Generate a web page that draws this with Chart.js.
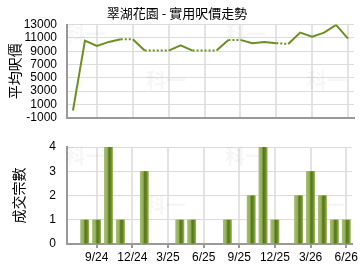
<!DOCTYPE html>
<html lang="zh-Hant">
<head>
    <meta charset="UTF-8">
    <title>翠湖花園</title>
    <style>
        body { margin: 0; background: #fff; }
        #wrap { position: relative; width: 360px; height: 270px; }
        #wrap canvas { position: absolute; left: 0; }
        #priceChart { top: 0; }
        #countChart { top: 135px; }
    </style>
</head>
<body>
    <div id="wrap">
        <canvas id="priceChart" width="360" height="135"></canvas>
        <canvas id="countChart" width="360" height="135"></canvas>
    </div>

<script src="https://cdn.jsdelivr.net/npm/chart.js"></script>
    <script>
        // months 7/24 .. 6/26
        const months = ['7/24','8/24','9/24','10/24','11/24','12/24','1/25','2/25','3/25','4/25','5/25','6/25',
                        '7/25','8/25','9/25','10/25','11/25','12/25','1/26','2/26','3/26','4/26','5/26','6/26'];
        const avgPrice = [100, 10600, 9800, 10400, 10800, 10800, 9100, 9100, 9100, 9900, 9100, 9100,
                          9100, 10700, 10700, 10200, 10400, 10200, 10100, 11800, 11200, 11800, 12950, 10900];
        const dealCount = [0, 1, 1, 4, 1, 0, 3, 0, 0, 1, 1, 0, 0, 1, 0, 2, 4, 1, 0, 2, 3, 2, 1, 1];
        const shownTicks = ['9/24','12/24','3/25','6/25','9/25','12/25','3/26','6/26'];
        const priceTicks = [-1000, 1000, 3000, 5000, 7000, 9000, 11000, 13000];
        const countTicks = [0, 1, 2, 3, 4];

        const fontFamily = '"Liberation Sans", Arial, sans-serif';
        const cjkFamily = '"Noto Sans CJK TC", "Noto Sans", sans-serif';
        const lineColor = '#6b8f23';

        function isShown(i){ return shownTicks.indexOf(months[i]) >= 0; }

        // faint watermark behind the plot
        const watermark = {
            id: 'watermark',
            beforeDatasetsDraw(chart){
                const a = chart.chartArea, c = chart.ctx;
                const w = a.right - a.left, h = a.bottom - a.top;
                c.save();
                c.font = 'bold 20px ' + cjkFamily;
                c.fillStyle = 'rgba(0,0,0,0.035)';
                c.textAlign = 'center';
                c.textBaseline = 'middle';
                [[0.03, 0.1], [0.31, 0.6], [0.59, 0.1], [0.87, 0.6]].forEach(p => {
                    c.fillText('科一', a.left + w * p[0] + 10, a.top + h * p[1]);
                });
                c.restore();
            }
        };

        // shaded cylinder look for bars
        const barShade = {
            id: 'barShade',
            afterDatasetsDraw(chart){
                const c = chart.ctx;
                chart.getDatasetMeta(0).data.forEach(bar => {
                    const p = bar.getProps(['x','y','base','width'], true);
                    if (Math.abs(p.base - p.y) < 0.5) return;
                    const l = p.x - p.width / 2;
                    const g = c.createLinearGradient(l, 0, l + p.width, 0);
                    g.addColorStop(0, '#a6bf72');
                    g.addColorStop(0.35, '#93b057');
                    g.addColorStop(0.55, '#557617');
                    g.addColorStop(0.8, '#6a8a2a');
                    g.addColorStop(1, '#9fbb66');
                    c.save();
                    c.fillStyle = g;
                    c.fillRect(l, p.y, p.width, p.base - p.y);
                    c.restore();
                });
            }
        };

        const gridX = {
            offset: false,
            color: ctx => isShown(ctx.index) ? '#e3e3e3' : 'rgba(0,0,0,0)',
            lineWidth: 2
        };

        new Chart(document.getElementById('priceChart'), {
            type: 'line',
            data: {
                labels: months,
                datasets: [{
                    data: avgPrice,
                    borderColor: lineColor,
                    borderWidth: 2,
                    pointRadius: 0,
                    tension: 0,
                    segment: {
                        borderDash: ctx => dealCount[ctx.p1DataIndex] === 0 ? [2, 2] : undefined
                    }
                }]
            },
            options: {
                responsive: false,
                animation: false,
                layout: { padding: { left: 0, right: 6, top: 0, bottom: 4 } },
                plugins: {
                    legend: { display: false },
                    tooltip: { enabled: false },
                    title: {
                        display: true,
                        text: '翠湖花園 - 實用呎價走勢',
                        color: '#000',
                        font: { family: cjkFamily, size: 13, weight: 'normal' },
                        padding: { top: 5, bottom: 4 }
                    }
                },
                scales: {
                    x: {
                        offset: true,
                        grid: Object.assign({ drawTicks: false }, gridX),
                        border: { color: '#999', width: 2 },
                        ticks: { display: false }
                    },
                    y: {
                        min: -1000,
                        max: 13000,
                        afterBuildTicks: s => { s.ticks = priceTicks.map(v => ({ value: v })); },
                        afterFit: s => { s.width = 67; },
                        grid: { color: '#dcdcdc', drawTicks: false },
                        border: { color: '#999', width: 2 },
                        ticks: {
                            autoSkip: false,
                            color: '#000',
                            padding: 10,
                            font: { family: fontFamily, size: 12 },
                            callback: v => String(v)
                        },
                        title: {
                            display: true,
                            text: '平均呎價',
                            color: '#000',
                            padding: 6,
                            font: { family: cjkFamily, size: 14 }
                        }
                    }
                }
            },
            plugins: [watermark]
        });

        new Chart(document.getElementById('countChart'), {
            type: 'bar',
            data: {
                labels: months,
                datasets: [{
                    data: dealCount,
                    backgroundColor: '#8aa84c',
                    barPercentage: 0.72,
                    categoryPercentage: 1
                }]
            },
            options: {
                responsive: false,
                animation: false,
                layout: { padding: { left: 0, right: 5, top: 12, bottom: 0 } },
                plugins: {
                    legend: { display: false },
                    tooltip: { enabled: false }
                },
                scales: {
                    x: {
                        offset: true,
                        afterFit: s => { s.height = 26; },
                        grid: Object.assign({ tickLength: 4, tickColor: ctx => isShown(ctx.index) ? '#999' : 'rgba(0,0,0,0)' }, gridX),
                        border: { color: '#999', width: 2 },
                        ticks: {
                            autoSkip: false,
                            maxRotation: 0,
                            padding: 2,
                            color: '#000',
                            font: { family: fontFamily, size: 12 },
                            callback: (v, i) => isShown(i) ? months[i] : ''
                        }
                    },
                    y: {
                        min: 0,
                        max: 4,
                        afterBuildTicks: s => { s.ticks = countTicks.map(v => ({ value: v })); },
                        afterFit: s => { s.width = 67; s.paddingTop = 0; s.paddingBottom = 0; },
                        grid: { color: '#dcdcdc', drawTicks: false },
                        border: { color: '#999', width: 2 },
                        ticks: {
                            autoSkip: false,
                            color: '#000',
                            padding: 11,
                            font: { family: fontFamily, size: 12 },
                            callback: v => String(v)
                        },
                        title: {
                            display: true,
                            text: '成交宗數',
                            color: '#000',
                            padding: 10,
                            font: { family: cjkFamily, size: 14 }
                        }
                    }
                }
            },
            plugins: [watermark, barShade]
        });
    </script>
</body>
</html>
